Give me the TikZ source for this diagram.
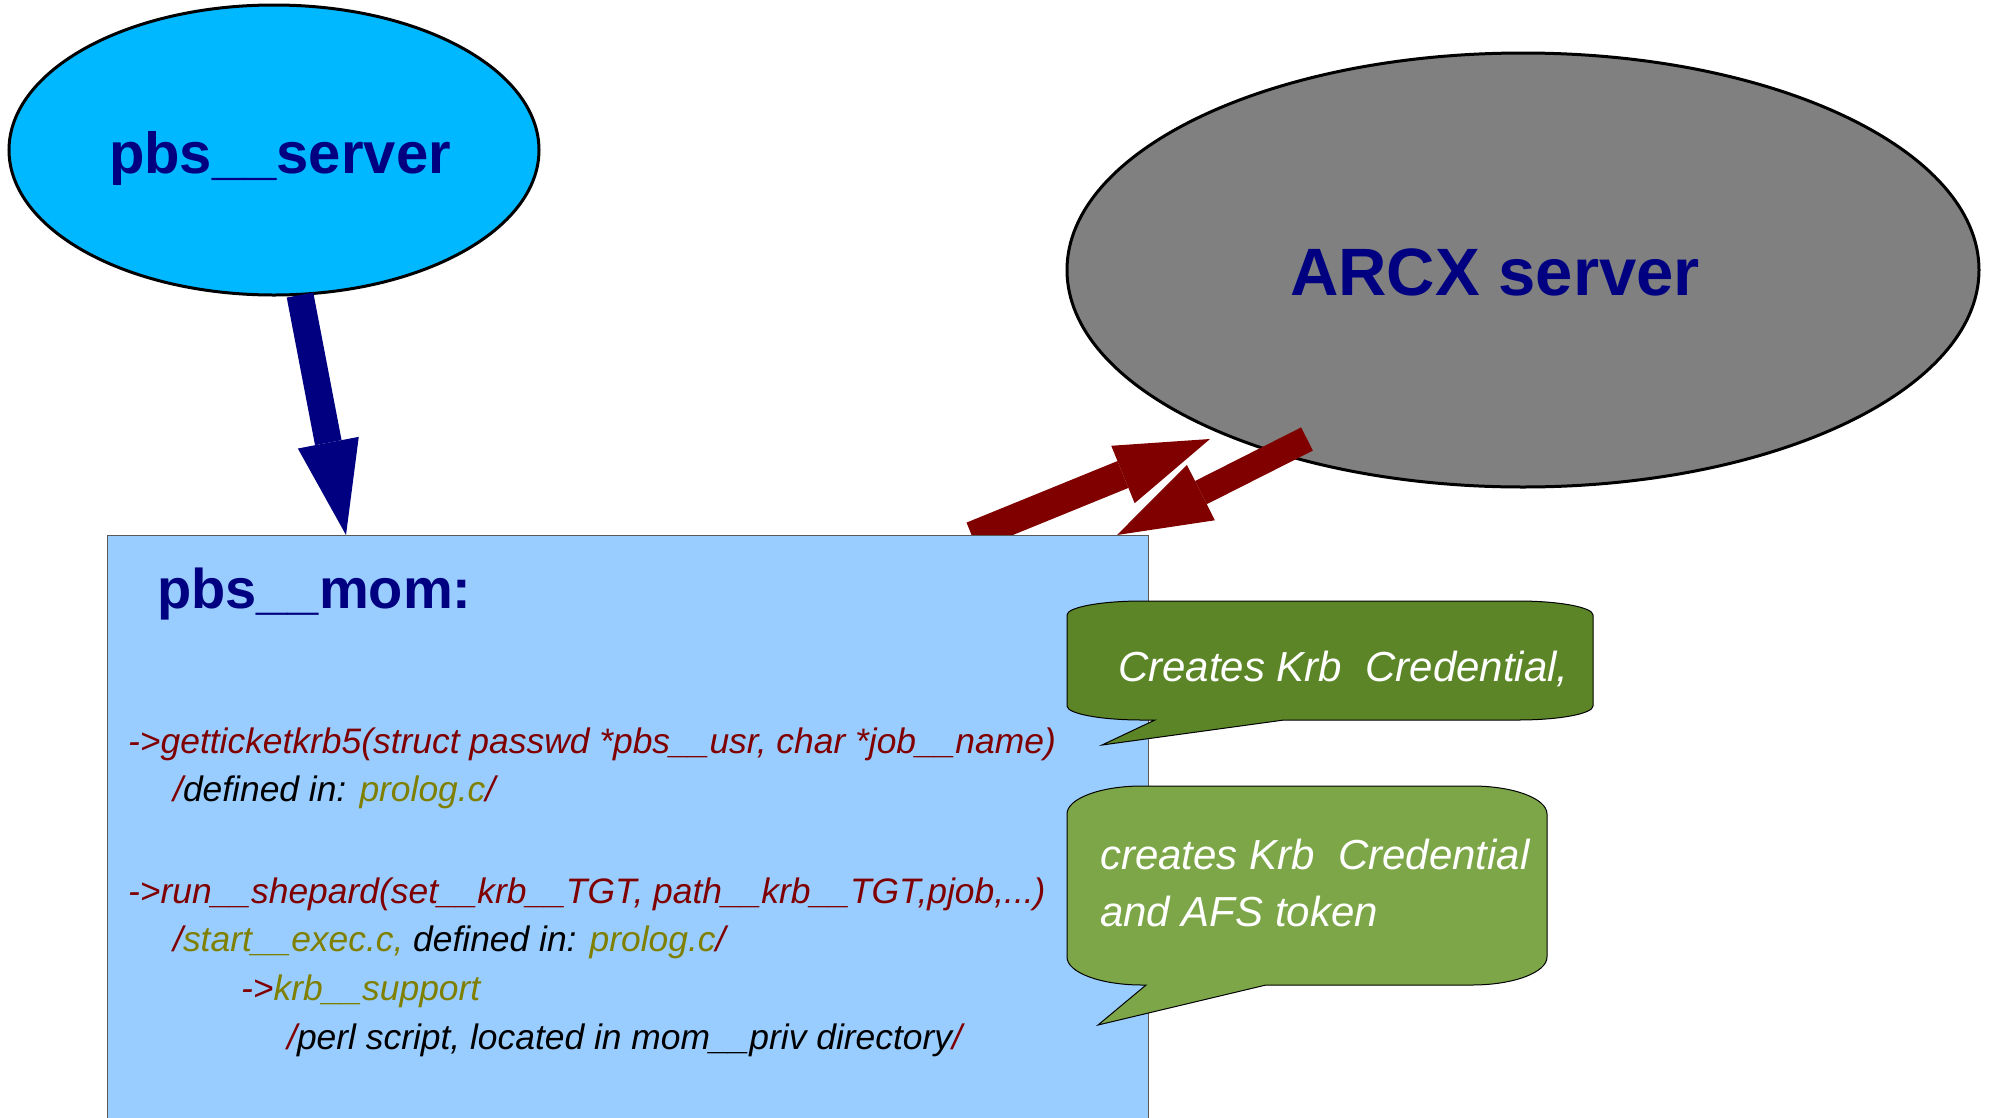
\documentclass[tikz,border=0pt]{standalone}
\usepackage{fontspec}
\setmainfont{Liberation Sans}
\usetikzlibrary{arrows.meta,shapes.geometric}
\definecolor{navyc}{HTML}{000080}
\definecolor{darkredc}{HTML}{800000}
\definecolor{olivec}{HTML}{808000}
\definecolor{skyc}{HTML}{00B8FF}
\definecolor{momc}{HTML}{99CCFF}
\definecolor{greyc}{HTML}{808080}
\definecolor{greenA}{HTML}{5B8527}
\definecolor{greenB}{HTML}{7CA647}
\newcommand\cRed[1]{\textcolor{darkredc}{#1}}
\newcommand\cOl[1]{\textcolor{olivec}{#1}}
\begin{document}
\begin{tikzpicture}[x=1pt,y=-1pt,
  titletext/.style={text=navyc, inner sep=0pt, font=\bfseries\fontsize{#1}{#1}\selectfont},
  codetext/.style={text=black, inner sep=0pt, anchor=base west, font=\itshape\fontsize{35.4}{40}\selectfont},
  calltext/.style={text=white, inner sep=0pt, anchor=base west, font=\itshape\fontsize{42}{48}\selectfont},
  bigarrow/.style={line width=#1, -{Triangle[length=94pt,width=62pt,line width=0pt]}},
  callout/.style={draw=black, line width=1pt}
]
\clip (0,0) rectangle (1992,1117);
\fill[white] (0,0) rectangle (1992,1117);

% ellipses
\node[ellipse, draw=black, line width=3pt, fill=skyc, minimum width=530pt, minimum height=290pt, inner sep=0pt] (pbsserver) at (274,150) {};
\node[titletext=58, anchor=base] (pbsservertext) at (280,173) {pbs\_\_server};
\node[ellipse, draw=black, line width=3pt, fill=greyc, minimum width=912pt, minimum height=434pt, inner sep=0pt] (arcx) at (1523,270) {};
\node[titletext=67, anchor=base west] (arcxtext) at (1290,295) {ARCX server};

% connector end points
\coordinate (bt) at (300,295);
\coordinate (bh) at (346,535);
\coordinate (r1t) at (972,536);
\coordinate (r1h) at (1210,439);
\coordinate (r2t) at (1307,439);
\coordinate (r2h) at (1117,535);

\draw[navyc, bigarrow=27pt] (bt) -- (bh);
\draw[darkredc, bigarrow=29pt] (r1t) -- (r1h);
\draw[darkredc, bigarrow=26pt] (r2t) -- (r2h);

% pbs_mom box
\node[draw=black!65, line width=1.2pt, fill=momc, minimum width=1041pt, minimum height=640pt, anchor=north west, inner sep=0pt] (mom) at (107,535) {};
\node[titletext=56, anchor=base west] (momtitle) at (157,608) {pbs\_\_mom:};

\node[codetext] (l1) at (128,753) {\cRed{->getticketkrb5(struct passwd *pbs\_\_usr, char *job\_\_name)}};
\node[codetext] (l2) at (173,801) {\cRed{/}defined in: \cOl{prolog.c}\cRed{/}};
\node[codetext] (l3) at (128,903) {\cRed{->run\_\_shepard(set\_\_krb\_\_TGT, path\_\_krb\_\_TGT,pjob,...)}};
\node[codetext] (l4) at (173,951) {\cRed{/}\cOl{start\_\_exec.c,} defined in: \cOl{prolog.c}\cRed{/}};
\node[codetext] (l5) at (241,1000) {\cRed{->}\cOl{krb\_\_support}};
\node[codetext] (l6) at (287,1049) {\cRed{/}perl script, located in mom\_\_priv directory\cRed{/}};

% callout 1
\path[callout, fill=greenA] (1067,615) -- (1067,706) .. controls (1067,713.7) and (1100.6,720) .. (1142,720) -- (1155,720) -- (1102,745) -- (1284,720) -- (1518,720) .. controls (1559.4,720) and (1593,713.7) .. (1593,706) -- (1593,615) .. controls (1593,607.3) and (1559.4,601) .. (1518,601) -- (1142,601) .. controls (1100.6,601) and (1067,607.3) .. (1067,615) -- cycle;
\node[calltext] (c1) at (1118,681) {Creates Krb\ \ Credential,};

% callout 2
\path[callout, fill=greenB] (1067,814) -- (1067,957) .. controls (1067,972.5) and (1100.6,985) .. (1142,985) -- (1146,985) -- (1098,1025) -- (1266,985) -- (1472,985) .. controls (1513.4,985) and (1547,972.5) .. (1547,957) -- (1547,814) .. controls (1547,798.5) and (1513.4,786) .. (1472,786) -- (1142,786) .. controls (1100.6,786) and (1067,798.5) .. (1067,814) -- cycle;
\node[calltext] (c2a) at (1100,869) {creates Krb\ \ Credential};
\node[calltext] (c2b) at (1100,926) {and AFS token};
\end{tikzpicture}
\end{document}
